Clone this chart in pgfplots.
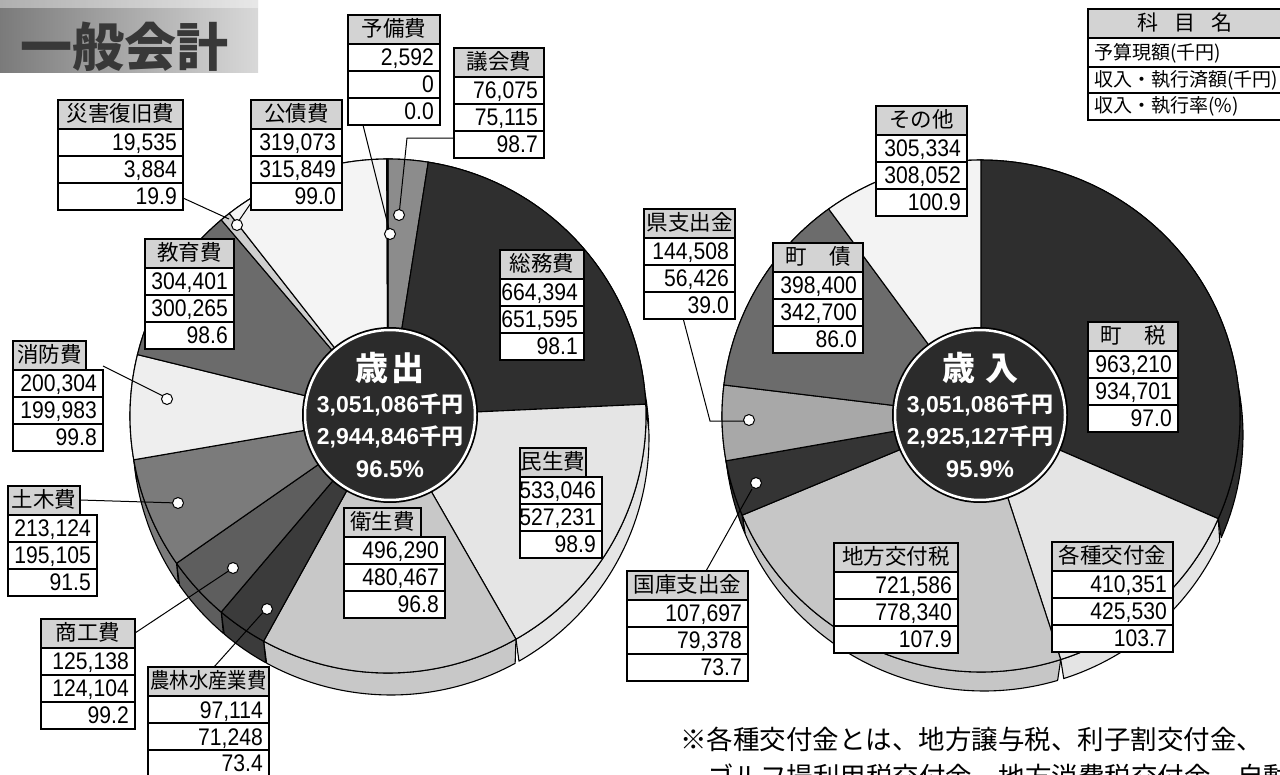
\documentclass[border=0pt]{standalone}
\usepackage{pgfplots}
\pgfplotsset{compat=1.18}
\usepackage{fontspec}
\usepackage{graphicx}
\setmainfont{Noto Sans CJK JP}
\newfontfamily\jp{Noto Sans CJK JP}
\newfontfamily\numf[FakeStretch=0.88]{Liberation Sans}
\newfontfamily\ars{Liberation Sans}

\definecolor{hdr}{HTML}{D3D3D3}
\definecolor{cdark}{HTML}{2B2B2B}
% left pie
\definecolor{gikai}{HTML}{8C8C8C}
\definecolor{somu}{HTML}{2F2F2F}
\definecolor{minsei}{HTML}{E5E5E5}
\definecolor{eisei}{HTML}{C8C8C8}
\definecolor{norin}{HTML}{3B3B3B}
\definecolor{shoko}{HTML}{5E5E5E}
\definecolor{doboku}{HTML}{7B7B7B}
\definecolor{shobo}{HTML}{EEEEEE}
\definecolor{kyoiku}{HTML}{6B6B6B}
\definecolor{saigai}{HTML}{CFCFCF}
\definecolor{kosai}{HTML}{F4F4F4}
\definecolor{yobi}{HTML}{FFFFFF}
% right pie
\definecolor{chozei}{HTML}{2E2E2E}
\definecolor{kakushu}{HTML}{E4E4E4}
\definecolor{chiho}{HTML}{C6C6C6}
\definecolor{kokko}{HTML}{343434}
\definecolor{ken}{HTML}{A8A8A8}
\definecolor{chosai}{HTML}{6C6C6C}
\definecolor{sonota}{HTML}{F3F3F3}

% pie machinery: cx cy rx ry total dx dy
\newcommand\PieStart[7]{\gdef\pcx{#1}\gdef\pcy{#2}\gdef\prx{#3}\gdef\pry{#4}\gdef\ptot{#5}\gdef\pdx{#6}\gdef\pdy{#7}\gdef\pang{90}}
\newcommand\PieSide[2]{%
  \edef\pend{\fpeval{round(\pang-360*#1/\ptot,4)}}%
  \edef\tmp{\noexpand\addplot[fill=#2,draw=black,line width=1.1pt,line join=round,domain=0:2,samples=121,variable=\noexpand\t]
   ({\pcx+\prx*cos(\pend+(\pang-(\pend))*(1-abs(1-\noexpand\t)))+\pdx*(\noexpand\t>1)},
    {\pcy-\pry*sin(\pend+(\pang-(\pend))*(1-abs(1-\noexpand\t)))+\pdy*(\noexpand\t>1)}) -- cycle;}%
  \tmp
  \xdef\pang{\pend}}
\newcommand\PieTop[2]{%
  \edef\pend{\fpeval{round(\pang-360*#1/\ptot,4)}}%
  \edef\tmp{\noexpand\addplot[fill=#2,draw=black,line width=1.1pt,line join=round,domain=\pend:\pang,samples=60,variable=\noexpand\t]
   ({\pcx+\prx*cos(\noexpand\t)},{\pcy-\pry*sin(\noexpand\t)}) -- (axis cs:\pcx,\pcy) -- cycle;}%
  \tmp
  \xdef\pang{\pend}}

% 歳出 (budget amounts, thousand yen), clockwise from top
\newcommand\LeftSlices[1]{%
  #1{76075}{gikai}#1{664394}{somu}#1{533046}{minsei}#1{496290}{eisei}%
  #1{97114}{norin}#1{125138}{shoko}#1{213124}{doboku}#1{200304}{shobo}%
  #1{304401}{kyoiku}#1{19535}{saigai}#1{319073}{kosai}#1{2592}{yobi}}
% 歳入
\newcommand\RightSlices[1]{%
  #1{963210}{chozei}#1{410351}{kakushu}#1{721586}{chiho}#1{107697}{kokko}%
  #1{144508}{ken}#1{398400}{chosai}#1{305334}{sonota}}

\newcommand\hfont{\jp\fontsize{21.5}{21.5}\selectfont}
\newcommand\nfont{\numf\fontsize{24}{24}\selectfont}
% x y header-width row-width header v1 v2 v3
\newcommand\lbox[8]{%
  \draw[fill=white,line width=1.2pt] ({#1},{#2+29}) rectangle ++(#4,27);
  \draw[fill=white,line width=1.2pt] ({#1},{#2+56}) rectangle ++(#4,27);
  \draw[fill=white,line width=1.2pt] ({#1},{#2+83}) rectangle ++(#4,27);
  \draw[fill=hdr,line width=1.2pt] ({#1},{#2}) rectangle ++(#3,29);
  \node[anchor=base,inner sep=0,font=\hfont] at ({#1+#3/2},{#2+22}) {#5};
  \node[anchor=base east,inner sep=0,font=\nfont] at ({#1+#4-6},{#2+51}) {#6};
  \node[anchor=base east,inner sep=0,font=\nfont] at ({#1+#4-6},{#2+78}) {#7};
  \node[anchor=base east,inner sep=0,font=\nfont] at ({#1+#4-6},{#2+105}) {#8};
}
\newcommand\ctext[5]{% x, title, budget, executed, rate
  \node[anchor=base,inner sep=0,text=white,font=\jp\bfseries\fontsize{33}{33}\selectfont] at (#1,381) {#2};
  \node[anchor=base,inner sep=0,text=white] at (#1,413) {{\ars\bfseries\fontsize{23}{23}\selectfont #3}{\jp\bfseries\fontsize{22}{22}\selectfont 千円}};
  \node[anchor=base,inner sep=0,text=white] at (#1,445) {{\ars\bfseries\fontsize{23}{23}\selectfont #4}{\jp\bfseries\fontsize{22}{22}\selectfont 千円}};
  \node[anchor=base,inner sep=0,text=white,font=\ars\bfseries\fontsize{24}{24}\selectfont] at (#1,478) {#5};
}

\begin{document}
\begin{tikzpicture}
\useasboundingbox (0,0) rectangle (1280pt,774pt);
\clip (0,0) rectangle (1280pt,774pt);
\begin{axis}[at={(0,0)},anchor=south west,scale only axis,width=1280pt,height=774pt,
  xmin=0,xmax=1280,ymin=0,ymax=774,y dir=reverse,hide axis,clip=false,no markers]
  % left pie
  \PieStart{388}{416}{258}{257}{3051086}{3}{22}\LeftSlices\PieSide
  \PieStart{388}{416}{258}{257}{3051086}{3}{22}\LeftSlices\PieTop
  % right pie
  \PieStart{981}{416}{259}{256}{3051086}{3}{19}\RightSlices\PieSide
  \PieStart{981}{416}{259}{256}{3051086}{3}{19}\RightSlices\PieTop
  % centre discs
  \addplot[fill=black,draw=none,domain=0:360,samples=120,variable=\t] ({390+88*cos(\t)},{415+88*sin(\t)}) -- cycle;
  \addplot[fill=cdark,draw=white,line width=2.5pt,domain=0:360,samples=120,variable=\t] ({390+85*cos(\t)},{415+85*sin(\t)}) -- cycle;
  \addplot[fill=black,draw=none,domain=0:360,samples=120,variable=\t] ({980+88*cos(\t)},{415+88*sin(\t)}) -- cycle;
  \addplot[fill=cdark,draw=white,line width=2.5pt,domain=0:360,samples=120,variable=\t] ({980+85*cos(\t)},{415+85*sin(\t)}) -- cycle;
  % leader lines
  \addplot[black,line width=1pt] coordinates {(455,138) (407,138) (399,215)};
  \addplot[black,line width=1pt] coordinates {(363,125) (390,233)};
  \addplot[black,line width=1pt] coordinates {(251,203) (238,222)};
  \addplot[black,line width=1pt] coordinates {(183,198) (229,219)};
  \addplot[black,line width=1pt] coordinates {(103,366) (167,398)};
  \addplot[black,line width=1pt] coordinates {(80,500) (178,503)};
  \addplot[black,line width=1pt] coordinates {(135,633) (233,568)};
  \addplot[black,line width=1pt] coordinates {(214,667) (266,609)};
  \addplot[black,line width=1pt] coordinates {(683,318) (710,421) (749,421)};
  \addplot[black,line width=1pt] coordinates {(706,571) (752,489)};
  \addplot[only marks,mark=*,mark size=5.5pt,mark options={fill=white,draw=black,line width=1pt}] coordinates {
    (399,215) (390,234) (237,225) (167,399) (178,503) (233,568) (267,609) (749,420) (756,483)};
\end{axis}
\begin{scope}[x=1pt,y=-1pt,yshift=774pt]
  % title
  \shade[left color=black!52,right color=black!15] (0,0) rectangle (258,73);
  \fill[white,opacity=0.4] (0,0) rectangle (258,8);
  \node[anchor=base,inner sep=0,text=black!78,font=\jp\bfseries\fontsize{52}{52}\selectfont] at (124,67) {一般会計};
  % legend (top right)
  \draw[fill=white,line width=1.2pt] (1088,38) rectangle (1290,67);
  \draw[fill=white,line width=1.2pt] (1088,67) rectangle (1290,93);
  \draw[fill=white,line width=1.2pt] (1088,93) rectangle (1290,120);
  \draw[fill=hdr,line width=1.2pt] (1088,9) rectangle (1290,38);
  \node[anchor=base,inner sep=0,font=\jp\fontsize{21}{21}\selectfont] at (1185,31) {科\hspace{16pt}目\hspace{16pt}名};
  \node[anchor=base west,inner sep=0,font=\jp\fontsize{19}{19}\selectfont] at (1094,60) {予算現額(千円)};
  \node[anchor=base west,inner sep=0,font=\jp\fontsize{19}{19}\selectfont] at (1094,87) {収入・執行済額(千円)};
  \node[anchor=base west,inner sep=0,font=\jp\fontsize{19}{19}\selectfont] at (1094,113) {収入・執行率(\%)};
  % centre texts
  \ctext{390}{歳\hspace{3pt}出}{3,051,086}{2,944,846}{96.5\%}
  \ctext{980}{歳\hspace{10pt}入}{3,051,086}{2,925,127}{95.9\%}
  % label boxes, left
  \lbox{348}{15}{92}{92}{予備費}{2,592}{0}{0.0}
  \lbox{454}{48}{90}{90}{議会費}{76,075}{75,115}{98.7}
  \lbox{251}{100}{91}{91}{公債費}{319,073}{315,849}{99.0}
  \lbox{58}{100}{125}{125}{災害復旧費}{19,535}{3,884}{19.9}
  \lbox{145}{239}{89}{89}{教育費}{304,401}{300,265}{98.6}
  \lbox{13}{341}{73}{90}{消防費}{200,304}{199,983}{99.8}
  \lbox{8}{486}{72}{89}{土木費}{213,124}{195,105}{91.5}
  \lbox{41}{619}{94}{94}{商工費}{125,138}{124,104}{99.2}
  \lbox{148}{667}{121}{121}{\scalebox{0.9}[1]{農林水産業費}}{97,114}{71,248}{73.4}
  \lbox{344}{508}{77}{101}{衛生費}{496,290}{480,467}{96.8}
  \lbox{520}{448}{66}{82}{民生費}{533,046}{527,231}{98.9}
  \lbox{500}{250}{84}{84}{総務費}{664,394}{651,595}{98.1}
  % label boxes, right
  \lbox{876}{106}{91}{91}{その他}{305,334}{308,052}{100.9}
  \lbox{773}{243}{90}{90}{町\hspace{22pt}債}{398,400}{342,700}{86.0}
  \lbox{644}{209}{91}{91}{県支出金}{144,508}{56,426}{39.0}
  \lbox{627}{571}{121}{121}{国庫支出金}{107,697}{79,378}{73.7}
  \lbox{834}{543}{124}{124}{地方交付税}{721,586}{778,340}{107.9}
  \lbox{1052}{542}{121}{121}{各種交付金}{410,351}{425,530}{103.7}
  \lbox{1088}{322}{90}{90}{町\hspace{22pt}税}{963,210}{934,701}{97.0}
  % note
  \node[anchor=base west,inner sep=0,font=\jp\fontsize{26.5}{26.5}\selectfont] at (680,749) {※各種交付金とは、地方譲与税、利子割交付金、};
  \node[anchor=base west,inner sep=0,font=\jp\fontsize{26.5}{26.5}\selectfont] at (707,786) {ゴルフ場利用税交付金、地方消費税交付金、自動車取得税交付金};
\end{scope}
\end{tikzpicture}
\end{document}
